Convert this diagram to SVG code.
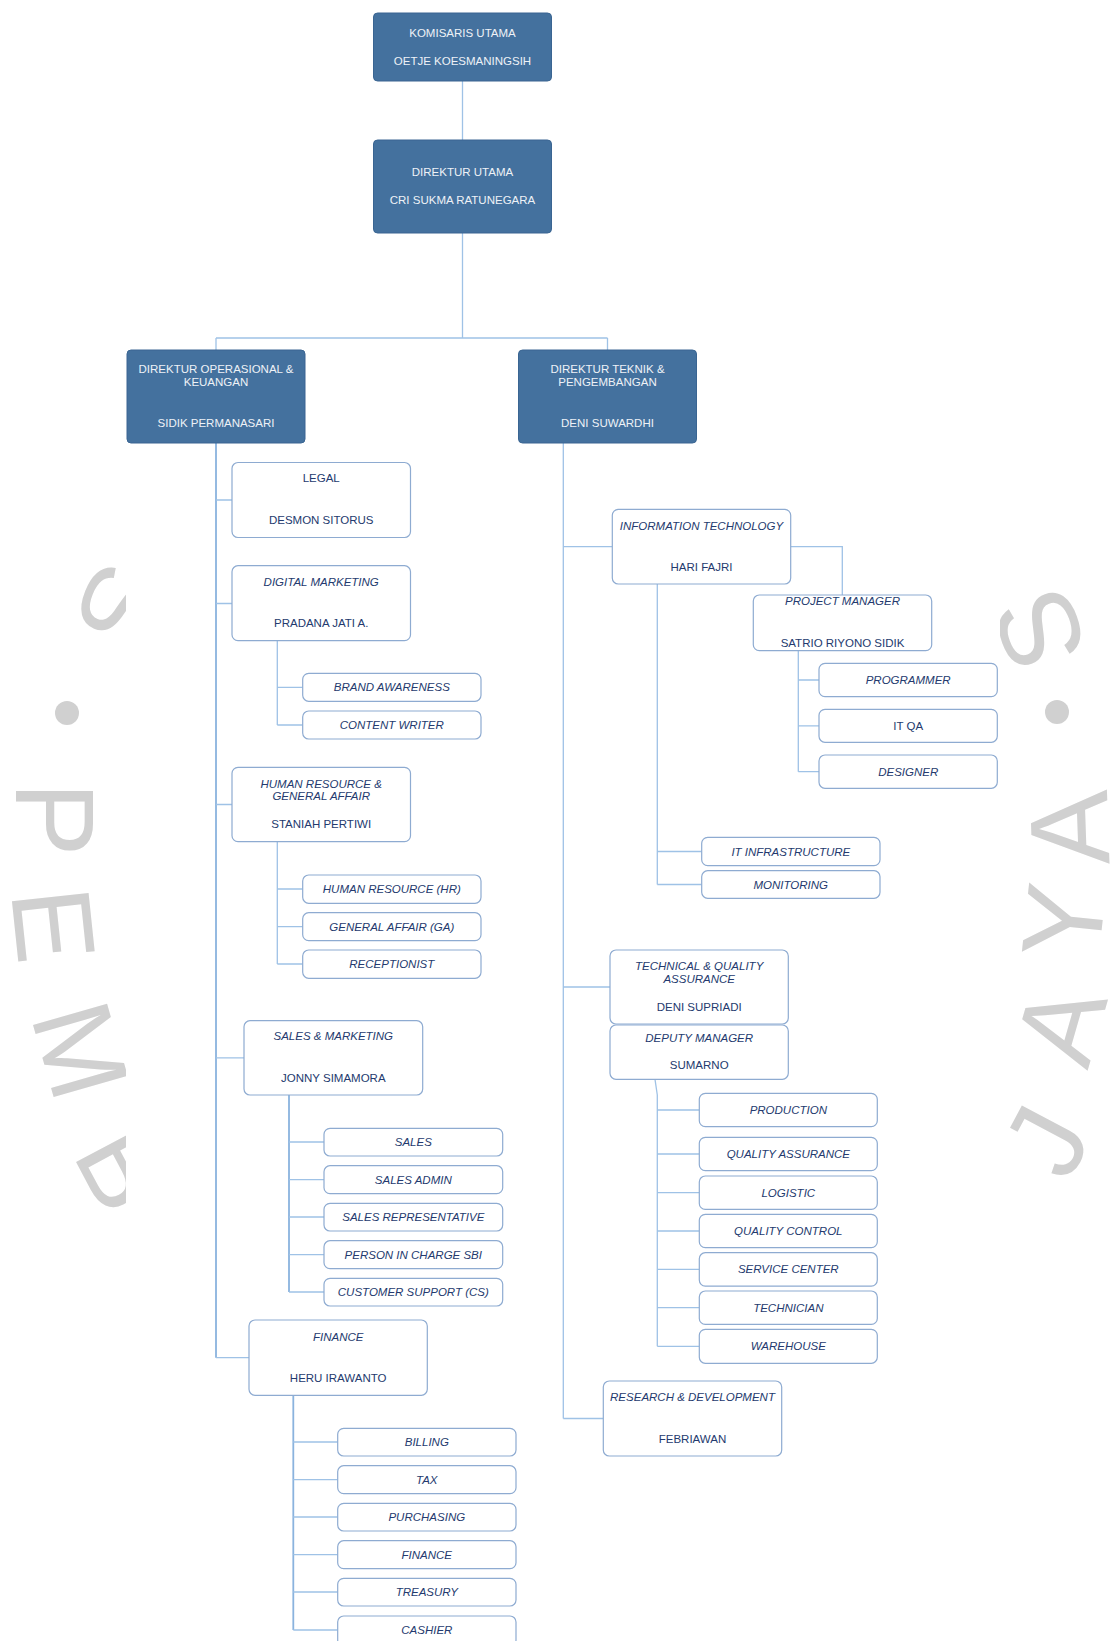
<svg xmlns="http://www.w3.org/2000/svg" width="1113" height="1641" viewBox="0 0 1113 1641">
<style>
.dk{fill:#44719e;stroke:#3a6592;stroke-width:1}
.lb{fill:#ffffff;stroke:#8eabd1;stroke-width:1.2}
text{font-family:"Liberation Sans",Arial,sans-serif;font-size:11.5px;text-anchor:middle}
.dt{fill:#eef2f7}
.lt{fill:#243a6e}
.it{font-style:italic}
.cn{fill:none;stroke:#9fc2e6;stroke-width:1.3}
.sp{fill:none;stroke:#8ab3de;stroke-width:1.8}
.wm{font-family:"Liberation Sans",Arial,sans-serif;font-size:112px;fill:#d0d0d0;text-anchor:middle}
</style>
<defs>
<clipPath id="wmclip">
<rect x="0" y="0" width="126" height="1641"/>
<rect x="1000" y="0" width="113" height="1641"/>
</clipPath>
</defs>
<rect width="1113" height="1641" fill="#ffffff"/>
<g id="watermark" clip-path="url(#wmclip)">
<text class="wm" transform="translate(124,606) rotate(112)" dy="0.36em">S</text>
<circle cx="67" cy="713" r="12" fill="#d0d0d0"/>
<text class="wm" transform="translate(56,819) rotate(90)" dy="0.36em">P</text>
<text class="wm" transform="translate(55,925) rotate(84)" dy="0.36em">E</text>
<text class="wm" transform="translate(82,1050) rotate(74)" dy="0.36em">M</text>
<text class="wm" transform="translate(125,1168) rotate(62)" dy="0.36em">B</text>
<text class="wm" transform="translate(1038,631) rotate(-110)" dy="0.36em">S</text>
<circle cx="1057" cy="712" r="12" fill="#d0d0d0"/>
<text class="wm" transform="translate(1068,828) rotate(-92)" dy="0.36em">A</text>
<text class="wm" transform="translate(1062,921) rotate(-84)" dy="0.36em">Y</text>
<text class="wm" transform="translate(1059,1024) rotate(-74)" dy="0.36em">A</text>
<text class="wm" transform="translate(1045,1140) rotate(-62)" dy="0.36em">J</text>
</g>
<g id="connectors">
<path class="cn" d="M462.5,81V140M462.5,233V338M216,338H607.5M216,338V350M607.5,338V350"/>
<path class="sp" d="M216,443V1357.7"/>
<path class="cn" d="M216,500H232M216,603.5H232M216,804.5H232M216,1057.8H244M216,1357.7H249"/>
<path class="cn" d="M277.3,640.7V725M277.3,687.3H302.7M277.3,725H302.7"/>
<path class="cn" d="M277.3,841.7V964M277.3,889H302.7M277.3,926.7H302.7M277.3,964H302.7"/>
<path class="sp" d="M289,1095V1292"/>
<path class="cn" d="M289,1142H324M289,1179.7H324M289,1217H324M289,1254.7H324M289,1292H324"/>
<path class="sp" d="M293.3,1395.3V1630"/>
<path class="cn" d="M293.3,1442H337.7M293.3,1479.7H337.7M293.3,1517H337.7M293.3,1554.7H337.7M293.3,1592H337.7M293.3,1630H337.7"/>
<path class="cn" d="M563.3,443V1418.5M563.3,546.7H612.3M563.3,987H610M563.3,1418.5H603.3"/>
<path class="cn" d="M790.7,546.7H842.3V595"/>
<path class="cn" d="M657.3,584V884.5M657.3,851.5H701.7M657.3,884.5H701.7"/>
<path class="cn" d="M798.3,650.7V771.7M798.3,680H819M798.3,725.8H819M798.3,771.7H819"/>
<path class="cn" d="M655,1079.3L657.3,1095V1346.3M657.3,1110H699.3M657.3,1154H699.3M657.3,1192.7H699.3M657.3,1231H699.3M657.3,1269.3H699.3M657.3,1307.7H699.3M657.3,1346.3H699.3"/>
</g>
<g id="komisaris-utama"><rect class="dk" x="373.5" y="13" width="178" height="68" rx="4"/><text class="dt" x="462.5" y="37">KOMISARIS UTAMA</text><text class="dt" x="462.5" y="64.5">OETJE KOESMANINGSIH</text></g>
<g id="direktur-utama"><rect class="dk" x="373.5" y="140" width="178" height="93" rx="4"/><text class="dt" x="462.5" y="176">DIREKTUR UTAMA</text><text class="dt" x="462.5" y="204">CRI SUKMA RATUNEGARA</text></g>
<g id="direktur-operasional"><rect class="dk" x="127" y="350" width="178" height="93" rx="4"/><text class="dt" x="216" y="372.5">DIREKTUR OPERASIONAL &amp;</text><text class="dt" x="216" y="386">KEUANGAN</text><text class="dt" x="216" y="427">SIDIK PERMANASARI</text></g>
<g id="direktur-teknik"><rect class="dk" x="518.5" y="350" width="178" height="93" rx="4"/><text class="dt" x="607.5" y="372.5">DIREKTUR TEKNIK &amp;</text><text class="dt" x="607.5" y="386">PENGEMBANGAN</text><text class="dt" x="607.5" y="427">DENI SUWARDHI</text></g>
<g id="legal"><rect class="lb" x="232" y="462.5" width="178.5" height="75" rx="6"/><text class="lt" x="321.2" y="482.3">LEGAL</text><text class="lt" x="321.2" y="524">DESMON SITORUS</text></g>
<g id="digital-marketing"><rect class="lb" x="232" y="565.7" width="178.5" height="75" rx="6"/><text class="lt it" x="321.2" y="585.7">DIGITAL MARKETING</text><text class="lt" x="321.2" y="627.3">PRADANA JATI A.</text></g>
<g id="brand-awareness"><rect class="lb" x="302.7" y="673.3" width="178.3" height="28" rx="6"/><text class="lt it" x="391.8" y="691.3">BRAND AWARENESS</text></g>
<g id="content-writer"><rect class="lb" x="302.7" y="711" width="178.3" height="28" rx="6"/><text class="lt it" x="391.8" y="729">CONTENT WRITER</text></g>
<g id="hrga"><rect class="lb" x="232" y="767.3" width="178.5" height="74.4" rx="6"/><text class="lt it" x="321.2" y="788">HUMAN RESOURCE &amp;</text><text class="lt it" x="321.2" y="800">GENERAL AFFAIR</text><text class="lt" x="321.2" y="828">STANIAH PERTIWI</text></g>
<g id="hr"><rect class="lb" x="302.7" y="875" width="178.3" height="28.3" rx="6"/><text class="lt it" x="391.8" y="893.2">HUMAN RESOURCE (HR)</text></g>
<g id="ga"><rect class="lb" x="302.7" y="912.7" width="178.3" height="28" rx="6"/><text class="lt it" x="391.8" y="930.7">GENERAL AFFAIR (GA)</text></g>
<g id="receptionist"><rect class="lb" x="302.7" y="950" width="178.3" height="28.3" rx="6"/><text class="lt it" x="391.8" y="968.2">RECEPTIONIST</text></g>
<g id="sales-marketing"><rect class="lb" x="244" y="1020.7" width="178.7" height="74.3" rx="6"/><text class="lt it" x="333.3" y="1040">SALES &amp; MARKETING</text><text class="lt" x="333.3" y="1081.7">JONNY SIMAMORA</text></g>
<g id="sales"><rect class="lb" x="324" y="1128.3" width="178.7" height="27.7" rx="6"/><text class="lt it" x="413.3" y="1146.2">SALES</text></g>
<g id="sales-admin"><rect class="lb" x="324" y="1165.7" width="178.7" height="28" rx="6"/><text class="lt it" x="413.3" y="1183.7">SALES ADMIN</text></g>
<g id="sales-representative"><rect class="lb" x="324" y="1203.3" width="178.7" height="27.7" rx="6"/><text class="lt it" x="413.3" y="1221.2">SALES REPRESENTATIVE</text></g>
<g id="pic-sbi"><rect class="lb" x="324" y="1240.7" width="178.7" height="28" rx="6"/><text class="lt it" x="413.3" y="1258.7">PERSON IN CHARGE SBI</text></g>
<g id="customer-support"><rect class="lb" x="324" y="1278.3" width="178.7" height="27.7" rx="6"/><text class="lt it" x="413.3" y="1296.2">CUSTOMER SUPPORT (CS)</text></g>
<g id="finance-head"><rect class="lb" x="249" y="1320" width="178.3" height="75.3" rx="6"/><text class="lt it" x="338.2" y="1340.7">FINANCE</text><text class="lt" x="338.2" y="1382.3">HERU IRAWANTO</text></g>
<g id="billing"><rect class="lb" x="337.7" y="1428.3" width="178.3" height="27.7" rx="6"/><text class="lt it" x="426.8" y="1446.2">BILLING</text></g>
<g id="tax"><rect class="lb" x="337.7" y="1465.7" width="178.3" height="28" rx="6"/><text class="lt it" x="426.8" y="1483.7">TAX</text></g>
<g id="purchasing"><rect class="lb" x="337.7" y="1503.3" width="178.3" height="27.7" rx="6"/><text class="lt it" x="426.8" y="1521.2">PURCHASING</text></g>
<g id="finance"><rect class="lb" x="337.7" y="1540.7" width="178.3" height="28" rx="6"/><text class="lt it" x="426.8" y="1558.7">FINANCE</text></g>
<g id="treasury"><rect class="lb" x="337.7" y="1578.3" width="178.3" height="27.7" rx="6"/><text class="lt it" x="426.8" y="1596.2">TREASURY</text></g>
<g id="cashier"><rect class="lb" x="337.7" y="1616" width="178.3" height="30" rx="6"/><text class="lt it" x="426.8" y="1634">CASHIER</text></g>
<g id="information-technology"><rect class="lb" x="612.3" y="509.3" width="178.4" height="74.7" rx="6"/><text class="lt it" x="701.5" y="529.7">INFORMATION TECHNOLOGY</text><text class="lt" x="701.5" y="570.7">HARI FAJRI</text></g>
<g id="project-manager"><rect class="lb" x="753.3" y="595" width="178.4" height="55.7" rx="6"/><text class="lt it" x="842.5" y="605">PROJECT MANAGER</text><text class="lt" x="842.5" y="646.7">SATRIO RIYONO SIDIK</text></g>
<g id="programmer"><rect class="lb" x="819" y="663.3" width="178.3" height="33.4" rx="6"/><text class="lt it" x="908.2" y="684">PROGRAMMER</text></g>
<g id="it-qa"><rect class="lb" x="819" y="709.3" width="178.3" height="33" rx="6"/><text class="lt" x="908.2" y="729.8">IT QA</text></g>
<g id="designer"><rect class="lb" x="819" y="755" width="178.3" height="33.3" rx="6"/><text class="lt it" x="908.2" y="775.7">DESIGNER</text></g>
<g id="it-infrastructure"><rect class="lb" x="701.7" y="837.3" width="178.3" height="28.4" rx="6"/><text class="lt it" x="790.8" y="855.5">IT INFRASTRUCTURE</text></g>
<g id="monitoring"><rect class="lb" x="701.7" y="870.7" width="178.3" height="27.6" rx="6"/><text class="lt it" x="790.8" y="888.5">MONITORING</text></g>
<g id="technical-qa"><rect class="lb" x="610" y="950" width="178.3" height="74" rx="6"/><text class="lt it" x="699.2" y="970">TECHNICAL &amp; QUALITY</text><text class="lt it" x="699.2" y="983.3">ASSURANCE</text><text class="lt" x="699.2" y="1011.3">DENI SUPRIADI</text></g>
<g id="deputy-manager"><rect class="lb" x="610" y="1025" width="178.3" height="54.3" rx="6"/><text class="lt it" x="699.2" y="1041.7">DEPUTY MANAGER</text><text class="lt" x="699.2" y="1069.3">SUMARNO</text></g>
<g id="production"><rect class="lb" x="699.3" y="1093.3" width="178" height="33.4" rx="6"/><text class="lt it" x="788.3" y="1114">PRODUCTION</text></g>
<g id="quality-assurance"><rect class="lb" x="699.3" y="1137.3" width="178" height="33.4" rx="6"/><text class="lt it" x="788.3" y="1158">QUALITY ASSURANCE</text></g>
<g id="logistic"><rect class="lb" x="699.3" y="1176" width="178" height="33.4" rx="6"/><text class="lt it" x="788.3" y="1196.7">LOGISTIC</text></g>
<g id="quality-control"><rect class="lb" x="699.3" y="1214.3" width="178" height="33.4" rx="6"/><text class="lt it" x="788.3" y="1235">QUALITY CONTROL</text></g>
<g id="service-center"><rect class="lb" x="699.3" y="1252.7" width="178" height="33.4" rx="6"/><text class="lt it" x="788.3" y="1273.4">SERVICE CENTER</text></g>
<g id="technician"><rect class="lb" x="699.3" y="1291" width="178" height="33.4" rx="6"/><text class="lt it" x="788.3" y="1311.7">TECHNICIAN</text></g>
<g id="warehouse"><rect class="lb" x="699.3" y="1329.3" width="178" height="34" rx="6"/><text class="lt it" x="788.3" y="1350.3">WAREHOUSE</text></g>
<g id="research-development"><rect class="lb" x="603.3" y="1381" width="178.4" height="75" rx="6"/><text class="lt it" x="692.5" y="1401.3">RESEARCH &amp; DEVELOPMENT</text><text class="lt" x="692.5" y="1443">FEBRIAWAN</text></g>
</svg>
